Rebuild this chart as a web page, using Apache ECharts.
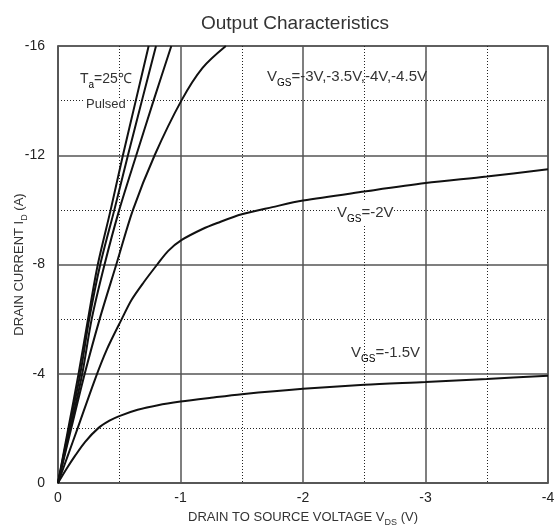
<!DOCTYPE html>
<html>
<head>
<meta charset="utf-8">
<style>
  html, body { margin: 0; padding: 0; background: #fff; }
  #chart { width: 555px; height: 525px; }
</style>
<script src="https://cdn.jsdelivr.net/npm/echarts@6/dist/echarts.min.js"></script>
</head>
<body>
<div id="chart"></div>
<script>
// drain-source voltage (V) and drain current (A)
var vgs45_vds = [0, -0.084, -0.168, -0.245, -0.325, -0.43, -0.53, -0.635, -0.74];
var vgs45_id  = [0, -2, -4, -6, -8, -10, -12, -14, -16];
var vgs4_vds  = [0, -0.09, -0.182, -0.255, -0.345, -0.46, -0.571, -0.685, -0.80];
var vgs4_id   = [0, -2, -4, -6, -8, -10, -12, -14, -16];
var vgs35_vds = [0, -0.1, -0.198, -0.275, -0.38, -0.5, -0.639, -0.78, -0.925];
var vgs35_id  = [0, -2, -4, -6, -8, -10, -12, -14, -16];
var vgs3_vds  = [0, -0.108, -0.218, -0.34, -0.476, -0.612, -0.789, -1.007, -1.18, -1.37];
var vgs3_id   = [0, -2, -4, -6, -8, -10, -12, -14, -15.2, -16];
var vgs2_vds  = [0, -0.08, -0.16, -0.30, -0.4, -0.52, -0.6, -0.7, -0.81, -0.9, -1.01, -1.18, -1.3, -1.5, -1.75, -2, -2.5, -3, -3.5, -4];
var vgs2_id   = [0, -1, -2, -3.77, -4.9, -6.0, -6.7, -7.35, -8.0, -8.5, -8.9, -9.3, -9.52, -9.84, -10.1, -10.34, -10.67, -10.98, -11.22, -11.49];
var vgs15_vds = [0, -0.07, -0.14, -0.22, -0.327, -0.42, -0.5, -0.65, -0.816, -1.0, -1.25, -1.5, -2, -2.5, -3, -3.5, -4];
var vgs15_id  = [0, -0.52, -1.0, -1.5, -2.0, -2.28, -2.45, -2.68, -2.85, -2.98, -3.12, -3.25, -3.45, -3.6, -3.7, -3.81, -3.93];

function zip(xs, ys) {
    return xs.map(function (x, i) { return [x, ys[i]]; });
}

var chart = echarts.init(document.getElementById('chart'));

var gridColor = '#555';
var font = 'Liberation Sans, Arial, sans-serif';
var sub = { fontSize: 10, fontFamily: font, color: '#333', padding: [13, 0, 0, 0] };
var subSmall = { fontSize: 9, fontFamily: font, color: '#333', padding: [10, 0, 0, 0] };

function curve(name, data) {
    return {
        name: name,
        type: 'line',
        smooth: 0.3,
        symbol: 'none',
        data: data,
        lineStyle: { color: '#111', width: 2 },
        z: 5
    };
}

chart.setOption({
    animation: false,
    title: {
        text: 'Output Characteristics',
        left: 196,
        top: 9,
        textStyle: { fontFamily: font, fontSize: 19, fontWeight: 'normal', color: '#333' }
    },
    grid: {
        left: 58, right: 7, top: 46, bottom: 42,
        outerBoundsMode: 'none',
        containLabel: false,
        show: true, borderColor: gridColor, borderWidth: 1.5
    },
    xAxis: {
        type: 'value',
        min: -4, max: 0, interval: 1,
        inverse: true,
        name: '{a|DRAIN TO SOURCE VOLTAGE V}{s|DS}{a| (V)}',
        nameLocation: 'middle',
        nameGap: 25,
        nameMoveOverlap: false,
        nameTextStyle: {
            rich: {
                a: { fontSize: 13, fontFamily: font, color: '#333' },
                s: subSmall
            }
        },
        axisLine: { show: true, lineStyle: { color: gridColor, width: 1.5 } },
        axisTick: { show: false },
        axisLabel: { fontSize: 14, fontFamily: font, color: '#222', margin: 8 },
        splitLine: { show: true, lineStyle: { color: gridColor, width: 1.5 } },
        minorTick: { show: false, splitNumber: 2 },
        minorSplitLine: { show: true, lineStyle: { color: '#222', width: 1, type: [1, 2] } }
    },
    yAxis: {
        type: 'value',
        min: -16, max: 0, interval: 4,
        inverse: true,
        name: '{a|DRAIN CURRENT I}{s|D}{a| (A)}',
        nameLocation: 'middle',
        nameGap: 29,
        nameMoveOverlap: false,
        nameTextStyle: {
            rich: {
                a: { fontSize: 13, fontFamily: font, color: '#333' },
                s: subSmall
            }
        },
        axisLine: { show: true, lineStyle: { color: gridColor, width: 1.5 } },
        axisTick: { show: false },
        axisLabel: { fontSize: 14, fontFamily: font, color: '#222', margin: 13 },
        splitLine: { show: true, lineStyle: { color: gridColor, width: 1.5 } },
        minorTick: { show: false, splitNumber: 2 },
        minorSplitLine: { show: true, lineStyle: { color: '#222', width: 1, type: [1, 2] } }
    },
    graphic: [
        {
            type: 'text', left: 80, top: 72, z: 10,
            style: {
                text: '{a|T}{s|a}{a|=25℃}',
                rich: { a: { fontSize: 14, fontFamily: font, fill: '#333' }, s: sub }
            }
        },
        {
            type: 'text', left: 85, top: 98, z: 10,
            style: {
                text: 'Pulsed',
                fontSize: 13, fontFamily: font, fill: '#333',
                backgroundColor: '#fff', padding: [0, 1]
            }
        },
        {
            type: 'text', left: 267, top: 69, z: 10,
            style: {
                text: '{a|V}{s|GS}{a|=-3V,-3.5V,-4V,-4.5V}',
                rich: { a: { fontSize: 15, fontFamily: font, fill: '#333' }, s: sub }
            }
        },
        {
            type: 'text', left: 337, top: 201, z: 10,
            style: {
                text: '{a|V}{s|GS}{a|=-2V}',
                backgroundColor: '#fff',
                rich: { a: { fontSize: 15, fontFamily: font, fill: '#333' }, s: sub }
            }
        },
        {
            type: 'text', left: 351, top: 345, z: 10,
            style: {
                text: '{a|V}{s|GS}{a|=-1.5V}',
                rich: { a: { fontSize: 15, fontFamily: font, fill: '#333' }, s: sub }
            }
        }
    ],
    series: [
        curve('VGS=-4.5V', zip(vgs45_vds, vgs45_id)),
        curve('VGS=-4V', zip(vgs4_vds, vgs4_id)),
        curve('VGS=-3.5V', zip(vgs35_vds, vgs35_id)),
        curve('VGS=-3V', zip(vgs3_vds, vgs3_id)),
        curve('VGS=-2V', zip(vgs2_vds, vgs2_id)),
        curve('VGS=-1.5V', zip(vgs15_vds, vgs15_id))
    ]
});
</script>
</body>
</html>
